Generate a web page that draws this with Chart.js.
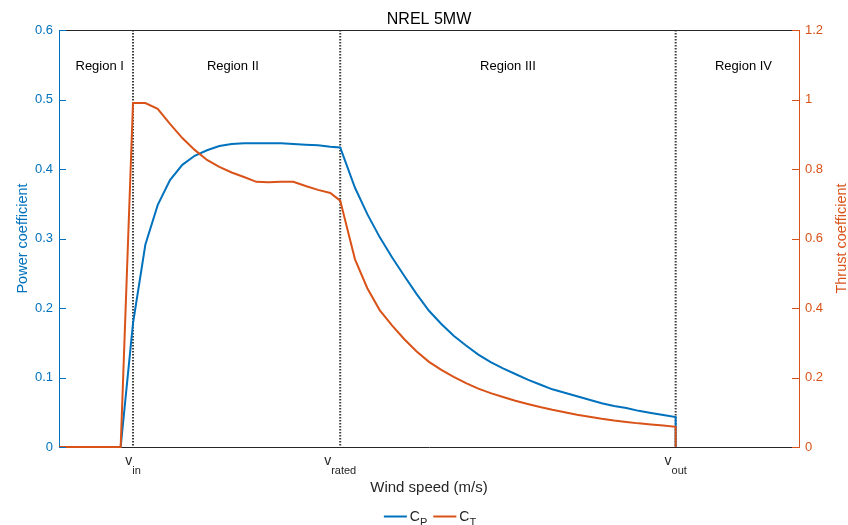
<!DOCTYPE html>
<html>
<head>
<meta charset="utf-8">
<title>NREL 5MW</title>
<script src="https://cdn.jsdelivr.net/npm/chart.js@4.4.1/dist/chart.umd.min.js"></script>
<style>
  html, body { margin: 0; padding: 0; background: #fff; }
</style>
</head>
<body>
<canvas id="cpct" width="848" height="525"></canvas>
<script>
// NREL 5MW power / thrust coefficient against wind speed

const windSpeed = [0, 2.5, 3, 3.5, 4, 4.5, 5, 5.5, 6, 6.5, 7, 7.5, 8, 8.5, 9, 9.5, 10, 10.5, 11, 11.4,
  12, 12.5, 13, 13.5, 14, 14.5, 15, 15.5, 16, 16.5, 17, 17.5, 18, 18.5, 19, 19.5, 20,
  20.5, 21, 21.5, 22, 22.5, 23, 23.5, 24, 24.5, 25, 25];
const powerCoef = [0, 0, 0.178, 0.291, 0.348, 0.384, 0.406, 0.419, 0.427, 0.433, 0.436, 0.437, 0.437, 0.437, 0.437, 0.436, 0.435, 0.434, 0.432, 0.431,
  0.373, 0.335, 0.302, 0.273, 0.246, 0.220, 0.196, 0.177, 0.160, 0.146, 0.133, 0.122, 0.113, 0.105, 0.097, 0.090, 0.083,
  0.078, 0.073, 0.068, 0.063, 0.059, 0.056, 0.052, 0.049, 0.046, 0.043, 0];
const thrustCoef = [0, 0, 0.99, 0.99, 0.973, 0.93, 0.889, 0.855, 0.826, 0.806, 0.79, 0.777, 0.763, 0.762, 0.763, 0.763, 0.751, 0.740, 0.731, 0.709,
  0.54, 0.457, 0.394, 0.35, 0.31, 0.275, 0.245, 0.222, 0.202, 0.184, 0.168, 0.155, 0.144, 0.133, 0.124, 0.115, 0.107,
  0.100, 0.093, 0.087, 0.081, 0.076, 0.072, 0.068, 0.065, 0.062, 0.058, 0];

// cut-in, rated and cut-out speeds
const speedMarks = [3, 11.4, 25];
const speedMarkSubs = ['in', 'rated', 'out'];

// operating regions, label anchored at a wind speed
const regionNames = ['Region I', 'Region II', 'Region III', 'Region IV'];
const regionAt = [1.65, 7.05, 18.2, 27.75];

const BLUE = '#0072BD';
const ORANGE = '#D95319';
const INK = '#262626';
const FONT = '"Liberation Sans", Arial, Helvetica, sans-serif';

Chart.defaults.font.family = FONT;

function toPoints(ys) {
  return windSpeed.map((v, i) => ({ x: v, y: ys[i] }));
}

// 1 rather than 1.0 on the thrust axis
function shortNum(v) {
  return String(Math.round(v * 10) / 10);
}

// text with a lowered subscript, e.g. v_in or C_P
function subText(ctx, base, sub, x, y, size, subSize, drop, align) {
  ctx.font = size + 'px ' + FONT;
  const w1 = ctx.measureText(base).width;
  ctx.font = subSize + 'px ' + FONT;
  const w2 = ctx.measureText(sub).width;
  const left = align === 'center' ? x - (w1 + w2) / 2 : x;
  ctx.textAlign = 'left';
  ctx.textBaseline = 'alphabetic';
  ctx.font = size + 'px ' + FONT;
  ctx.fillText(base, left, y);
  ctx.font = subSize + 'px ' + FONT;
  ctx.fillText(sub, left + w1, y + drop);
  return w1 + w2;
}

function subWidth(ctx, base, sub, size, subSize) {
  ctx.font = size + 'px ' + FONT;
  const w1 = ctx.measureText(base).width;
  ctx.font = subSize + 'px ' + FONT;
  return w1 + ctx.measureText(sub).width;
}

function rotatedText(ctx, text, x, y, color, size) {
  ctx.save();
  ctx.translate(x, y);
  ctx.rotate(-Math.PI / 2);
  ctx.fillStyle = color;
  ctx.font = size + 'px ' + FONT;
  ctx.textAlign = 'center';
  ctx.textBaseline = 'alphabetic';
  ctx.fillText(text, 0, 0);
  ctx.restore();
}

const decorations = {
  id: 'decorations',
  beforeDatasetsDraw(chart) {
    const { ctx, chartArea: a, scales: { x } } = chart;
    ctx.save();
    ctx.strokeStyle = '#3c3c3c';
    ctx.lineWidth = 2;
    ctx.setLineDash([1.5, 1.5]);
    speedMarks.forEach(v => {
      const px = x.getPixelForValue(v);
      ctx.beginPath();
      ctx.moveTo(px, a.top);
      ctx.lineTo(px, a.bottom);
      ctx.stroke();
    });
    ctx.restore();
  },
  afterDraw(chart) {
    const { ctx, chartArea: a, scales: { x, y, y1 } } = chart;
    const midX = (a.left + a.right) / 2;
    const midY = (a.top + a.bottom) / 2;
    ctx.save();

    // box top edge
    ctx.strokeStyle = INK;
    ctx.lineWidth = 1;
    ctx.beginPath();
    ctx.moveTo(a.left, a.top + 0.5);
    ctx.lineTo(a.right, a.top + 0.5);
    ctx.stroke();

    // inward tick marks on both y axes
    ctx.strokeStyle = BLUE;
    y.ticks.forEach(t => {
      const py = Math.round(y.getPixelForValue(t.value)) + 0.5;
      ctx.beginPath();
      ctx.moveTo(a.left, py);
      ctx.lineTo(a.left + 7, py);
      ctx.stroke();
    });
    ctx.strokeStyle = ORANGE;
    y1.ticks.forEach(t => {
      const py = Math.round(y1.getPixelForValue(t.value)) + 0.5;
      ctx.beginPath();
      ctx.moveTo(a.right, py);
      ctx.lineTo(a.right - 7, py);
      ctx.stroke();
    });

    // title
    ctx.fillStyle = '#000';
    ctx.font = '16px ' + FONT;
    ctx.textAlign = 'center';
    ctx.textBaseline = 'alphabetic';
    ctx.fillText('NREL 5MW', midX, 24);

    // region names
    ctx.font = '13px ' + FONT;
    regionNames.forEach((name, i) => {
      ctx.fillText(name, x.getPixelForValue(regionAt[i]), 69.5);
    });

    // speed labels under the axis
    ctx.fillStyle = INK;
    speedMarks.forEach((v, i) => {
      subText(ctx, 'v', speedMarkSubs[i], x.getPixelForValue(v), 465, 14, 11, 8.5, 'center');
    });

    // axis titles
    ctx.font = '15px ' + FONT;
    ctx.textAlign = 'center';
    ctx.fillText('Wind speed (m/s)', midX, 492);
    rotatedText(ctx, 'Power coefficient', 27, midY, BLUE, 14.5);
    rotatedText(ctx, 'Thrust coefficient', 846, midY, ORANGE, 14.5);

    // legend
    const entries = [
      { color: BLUE, base: 'C', sub: 'P' },
      { color: ORANGE, base: 'C', sub: 'T' }
    ];
    const lineLen = 23, gap = 3, spacing = 6;
    let total = 0;
    entries.forEach((e, i) => {
      e.w = subWidth(ctx, e.base, e.sub, 14, 11);
      total += lineLen + gap + e.w + (i ? spacing : 0);
    });
    let lx = midX + 1 - total / 2;
    const ly = 516.5;
    entries.forEach((e, i) => {
      if (i) lx += spacing;
      ctx.strokeStyle = e.color;
      ctx.lineWidth = 2;
      ctx.beginPath();
      ctx.moveTo(lx, ly);
      ctx.lineTo(lx + lineLen, ly);
      ctx.stroke();
      lx += lineLen + gap;
      ctx.fillStyle = INK;
      subText(ctx, e.base, e.sub, lx, 521, 14, 11, 4.5, 'left');
      lx += e.w;
    });

    ctx.restore();
  }
};

new Chart(document.getElementById('cpct'), {
  type: 'line',
  data: {
    datasets: [
      {
        label: 'CP',
        data: toPoints(powerCoef),
        borderColor: BLUE,
        backgroundColor: BLUE,
        borderWidth: 2,
        pointRadius: 0,
        tension: 0,
        yAxisID: 'y',
        order: 1,
        clip: 4
      },
      {
        label: 'CT',
        data: toPoints(thrustCoef),
        borderColor: ORANGE,
        backgroundColor: ORANGE,
        borderWidth: 2,
        pointRadius: 0,
        tension: 0,
        yAxisID: 'y1',
        order: 0,
        clip: 4
      }
    ]
  },
  options: {
    responsive: false,
    animation: false,
    devicePixelRatio: 1,
    layout: { padding: { top: 30, left: 0, right: 0, bottom: 0 } },
    plugins: {
      legend: { display: false },
      title: { display: false },
      tooltip: { enabled: false }
    },
    scales: {
      x: {
        type: 'linear',
        min: 0,
        max: 30,
        afterBuildTicks: scale => { scale.ticks = speedMarks.map(v => ({ value: v })); },
        afterFit: scale => { scale.height = 78; },
        ticks: { display: false },
        grid: { display: false, drawTicks: false },
        border: { display: true, color: INK, width: 1 }
      },
      y: {
        position: 'left',
        min: 0,
        max: 0.6,
        afterFit: scale => { scale.width = 59; },
        ticks: { stepSize: 0.1, color: BLUE, padding: 6, font: { size: 13 }, callback: shortNum },
        grid: { display: false, drawTicks: false },
        border: { display: true, color: BLUE, width: 1 }
      },
      y1: {
        position: 'right',
        min: 0,
        max: 1.2,
        afterFit: scale => { scale.width = 49; },
        ticks: { stepSize: 0.2, color: ORANGE, padding: 6, font: { size: 13 }, callback: shortNum },
        grid: { display: false, drawTicks: false },
        border: { display: true, color: ORANGE, width: 1 }
      }
    }
  },
  plugins: [decorations]
});
</script>
</body>
</html>
